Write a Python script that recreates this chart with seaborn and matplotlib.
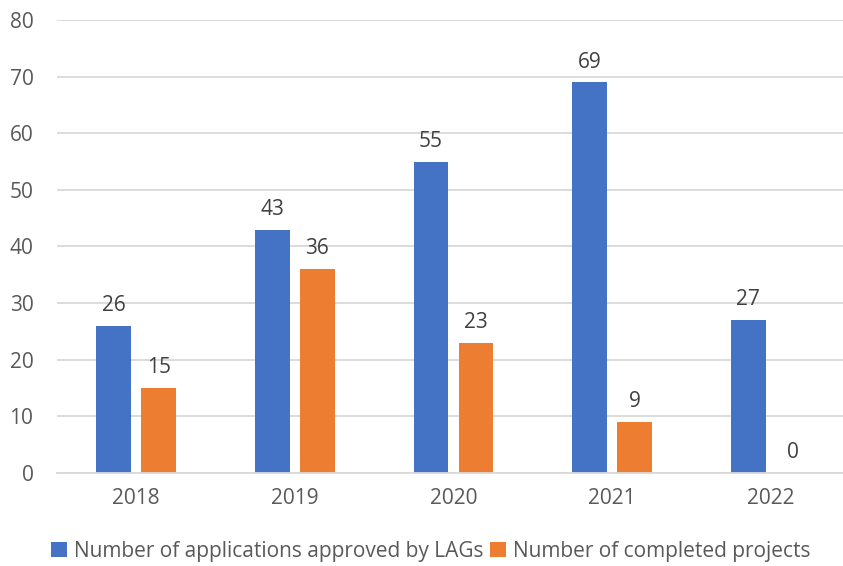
import matplotlib
matplotlib.use("Agg")
import matplotlib.pyplot as plt
import pandas as pd
import seaborn as sns

years = ["2018", "2019", "2020", "2021", "2022"]
approved = [26, 43, 55, 69, 27]
completed = [15, 36, 23, 9, 0]
series_names = ["Number of applications approved by LAGs", "Number of completed projects"]
palette = ["#4472C4", "#ED7D31"]

df = pd.DataFrame({
    "year": years * 2,
    "value": approved + completed,
    "series": [series_names[0]] * len(years) + [series_names[1]] * len(years),
})

sns.set_theme(style="white")
plt.rcParams["font.family"] = ["Open Sans", "DejaVu Sans"]

fig = plt.figure(figsize=(8.43, 5.66), dpi=100)
ax = fig.add_axes([57 / 843, 93 / 566, 793 / 843, 453 / 566])

sns.barplot(data=df, x="year", y="value", hue="series", palette=palette,
            width=0.568, gap=0.225, ax=ax, legend=True, saturation=1,
            linewidth=0)

for cont in ax.containers:
    ax.bar_label(cont, padding=7, fontsize=15, color="#404040")

ax.set_ylim(0, 80)
ax.set_xlim(-0.5, 4.5)
ax.set_yticks(range(0, 81, 10))
ax.yaxis.grid(True, color="#d9d9d9", linewidth=1.3)
ax.set_axisbelow(True)
for s in ["top", "right", "left"]:
    ax.spines[s].set_visible(False)
ax.spines["bottom"].set_color("#d9d9d9")
ax.spines["bottom"].set_linewidth(1.3)
ax.tick_params(axis="both", length=0, labelsize=15, colors="#595959")
ax.tick_params(axis="y", pad=17)
ax.tick_params(axis="x", pad=11)
ax.set_xlabel("")
ax.set_ylabel("")

handles, labels = ax.get_legend_handles_labels()
ax.get_legend().remove()
fig.legend(handles, labels, loc="center", bbox_to_anchor=(431 / 843, 15 / 566),
           ncol=2, frameon=False, fontsize=15, handlelength=0.75, handleheight=0.75,
           handletextpad=0.35, columnspacing=0.3, labelcolor="#595959")

fig.savefig("out.png", dpi=100)
